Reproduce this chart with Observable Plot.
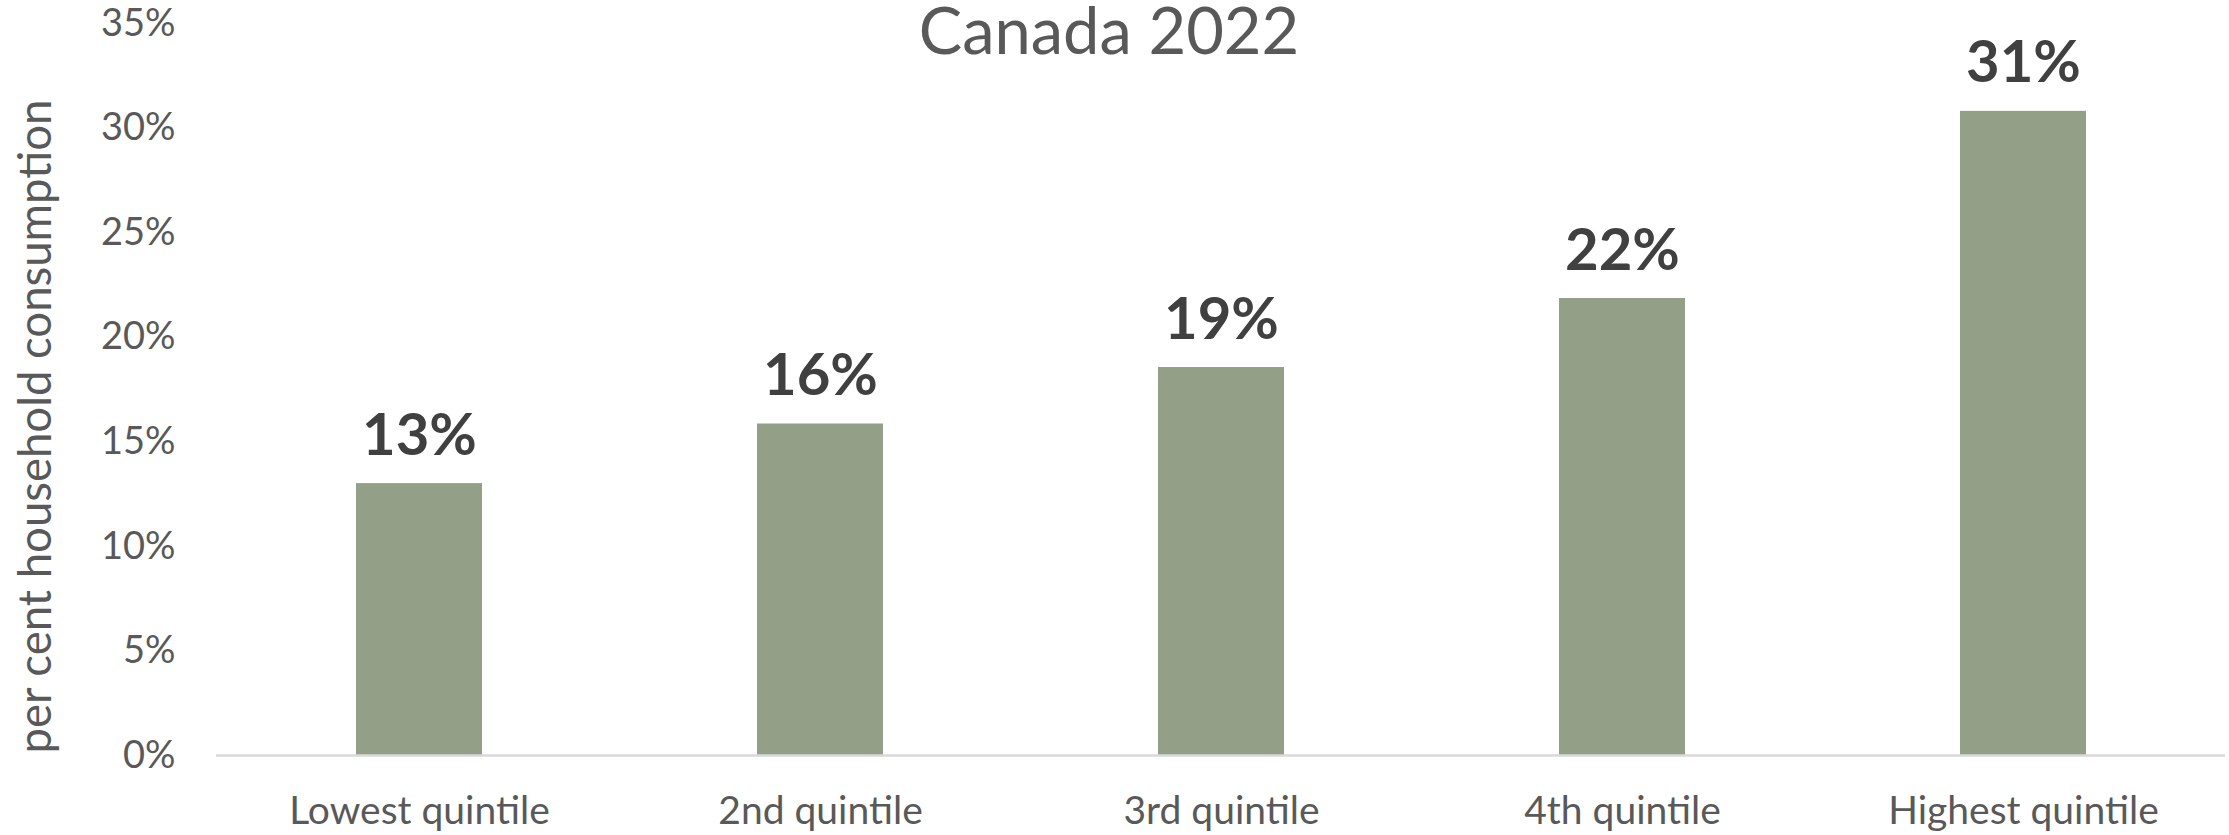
<!DOCTYPE html>
<html><head><meta charset="utf-8">
<script src="https://cdn.jsdelivr.net/npm/d3@7"></script>
<script src="https://cdn.jsdelivr.net/npm/@observablehq/plot@0.6"></script>
<style>body{margin:0;background:#fff} svg{display:block}</style>
</head><body><div id="chart"></div>
<script>
const title = "Canada 2022";
const yTitle = "per cent household consumption";
const categories = ["Lowest quintile", "2nd quintile", "3rd quintile", "4th quintile", "Highest quintile"];
const values = [13.0, 15.85, 18.55, 21.85, 30.8];
const yTicks = [0, 5, 10, 15, 20, 25, 30, 35];

const data = categories.map((c, i) => ({category: c, value: values[i]}));
const font = "Lato, 'Open Sans', sans-serif";

const chart = Plot.plot({
  width: 2229, height: 835,
  marginTop: 23, marginBottom: 80, marginLeft: 216, marginRight: 4,
  style: {fontFamily: font, background: "#fff", color: "#595959"},
  x: {domain: categories, paddingInner: 0.686, paddingOuter: 0.343, label: null},
  y: {domain: [0, 35], label: null},
  marks: [
    Plot.axisY({ticks: yTicks, tickFormat: d => d + "%", tickSize: 0, tickPadding: 41, fontSize: 38, label: null}),
    Plot.axisX({tickSize: 0, tickPadding: 41, fontSize: 39, label: null}),
    Plot.barY(data, {x: "category", y: "value", fill: "#949f87"}),
    Plot.ruleY([0], {stroke: "#d9d9d9", strokeWidth: 2.5}),
    Plot.text(data, {x: "category", y: "value", text: d => Math.round(d.value) + "%", lineAnchor: "bottom", dy: -29, fontSize: 58, fontWeight: "bold", fill: "#404040"}),
    Plot.text([title], {frameAnchor: "top", dx: -112, dy: 30, lineAnchor: "bottom", fontSize: 65, fill: "#595959"}),
    Plot.text([yTitle], {frameAnchor: "left", textAnchor: "middle", rotate: -90, dx: -166, dy: 37, lineAnchor: "bottom", fontSize: 45.5, fill: "#595959"})
  ]
});
document.getElementById("chart").appendChild(chart);
</script>
</body></html>
